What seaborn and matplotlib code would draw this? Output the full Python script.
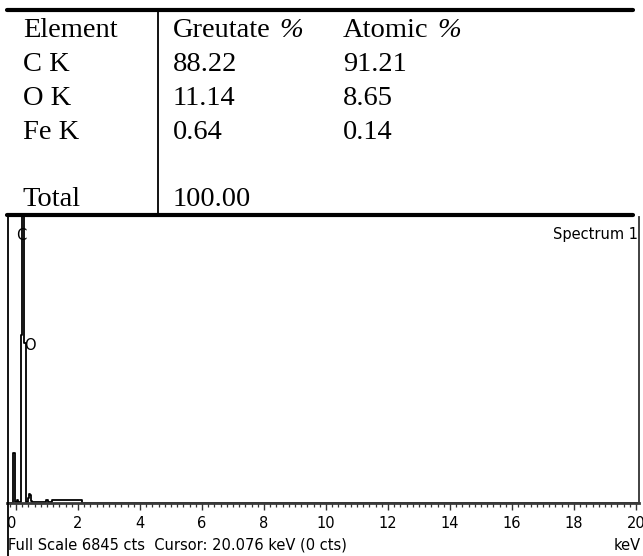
import matplotlib
matplotlib.use("Agg")
import matplotlib.pyplot as plt
from matplotlib.lines import Line2D
from matplotlib.ticker import MultipleLocator
import seaborn as sns
import pandas as pd

# Quantification table
elements = ["C K", "O K", "Fe K"]
weight_pct = ["88.22", "11.14", "0.64"]
atomic_pct = ["91.21", "8.65", "0.14"]
total_weight = "100.00"

# EDS spectrum outline (keV, counts), held until the next energy step
energy_kev = [-0.29, -0.11, -0.02, 0.04, 0.08, 0.16, 0.19, 0.26, 0.31,
              0.38, 0.42, 0.46, 0.50, 0.53, 0.96, 1.03, 1.16, 2.13, 20.10]
counts = [0, 1200, 20, 70, 20, 4020, 7600, 3830, 20,
          110, 210, 180, 40, 15, 80, 15, 70, 0, 0]
full_scale = 6845

peak_labels = ["C", "O"]
peak_label_energy = [0.16, 0.45]
peak_label_counts = [6400, 3780]

sns.set_style("white")
plt.rcParams["font.family"] = ["DejaVu Sans"]
plt.rcParams["text.color"] = "black"
plt.rcParams["xtick.color"] = "black"
plt.rcParams["xtick.labelcolor"] = "black"

W, H = 643, 556
fig = plt.figure(figsize=(W / 100, H / 100), dpi=100)
fig.patch.set_facecolor("white")


def fx(x):
    return x / W


def fy(y):
    return 1 - y / H


# --- table ---------------------------------------------------------------
serif = "Liberation Serif"
fig.add_artist(Line2D([fx(7), fx(633)], [fy(9.5)] * 2, lw=3.0, color="black"))
fig.add_artist(Line2D([fx(7), fx(633)], [fy(215)] * 2, lw=3.0, color="black"))
fig.add_artist(Line2D([fx(158)] * 2, [fy(11), fy(213)], lw=1.3, color="black"))

col1, col2, col3 = 22.7, 172.7, 342.7
rows_y = [37, 71, 105, 139]
tsize = 20.5

fig.text(fx(col1), fy(rows_y[0]), "Element", family=serif, size=tsize, va="baseline")
fig.text(fx(col2), fy(rows_y[0]), "Greutate", family=serif, size=tsize, va="baseline")
fig.text(fx(279), fy(rows_y[0]), "%", family=serif, size=tsize, va="baseline", style="italic")
fig.text(fx(col3), fy(rows_y[0]), "Atomic", family=serif, size=tsize, va="baseline")
fig.text(fx(437), fy(rows_y[0]), "%", family=serif, size=tsize, va="baseline", style="italic")

for el, w, a, y in zip(elements, weight_pct, atomic_pct, rows_y[1:]):
    fig.text(fx(col1), fy(y), el, family=serif, size=tsize, va="baseline")
    fig.text(fx(col2), fy(y), w, family=serif, size=tsize, va="baseline")
    fig.text(fx(col3), fy(y), a, family=serif, size=tsize, va="baseline")

fig.text(fx(col1), fy(206), "Total", family=serif, size=tsize, va="baseline")
fig.text(fx(col2), fy(206), total_weight, family=serif, size=tsize, va="baseline")

# --- spectrum ------------------------------------------------------------
left, right, top, base = 7, 639, 217, 503
ax = fig.add_axes([fx(left), fy(base), (right - left) / W, (base - top) / H])

spec = pd.DataFrame({"keV": energy_kev, "cts": counts})
sns.lineplot(data=spec, x="keV", y="cts", ax=ax, estimator=None, sort=False,
             drawstyle="steps-post", color="black", lw=1.3)

ax.set_xlim(-0.29, 20.1)
ax.set_ylim(0, full_scale)
ax.set_xlabel("")
ax.set_ylabel("")
ax.set_yticks([])
ax.set_xticks(range(0, 21, 2))
ax.xaxis.set_minor_locator(MultipleLocator(0.2))
ax.tick_params(axis="x", which="major", direction="out", length=5, width=1,
               color="#333333", labelsize=10.5, pad=4.5, bottom=True)
ax.tick_params(axis="x", which="minor", direction="out", length=2.8, width=0.9,
               color="#333333", bottom=True)
ax.xaxis.get_majorticklabels()[0].set_horizontalalignment("right")

for side in ("top", "left"):
    ax.spines[side].set_visible(False)
ax.spines["bottom"].set_linewidth(2.0)
ax.spines["bottom"].set_color("#3a3a3a")
ax.spines["right"].set_linewidth(1.3)
ax.spines["right"].set_color("#333333")

# left border runs to the bottom edge
fig.add_artist(Line2D([fx(7.5)] * 2, [fy(217), fy(556)], lw=1.3, color="black"))

for lab, e, c in zip(peak_labels, peak_label_energy, peak_label_counts):
    ax.text(e, c, lab, ha="center", va="center", size=10.5)

ax.text((553 - left) / (right - left), (base - 235) / (base - top), "Spectrum 1",
        transform=ax.transAxes, ha="left", va="center", size=10.5, clip_on=True)

fig.text(fx(8), fy(545), f"Full Scale {full_scale} cts  Cursor: 20.076 keV (0 cts)",
         ha="left", va="center", size=10.5)
fig.text(fx(641), fy(545), "keV", ha="right", va="center", size=10.5)

fig.savefig("out.png", dpi=100, facecolor="white")
